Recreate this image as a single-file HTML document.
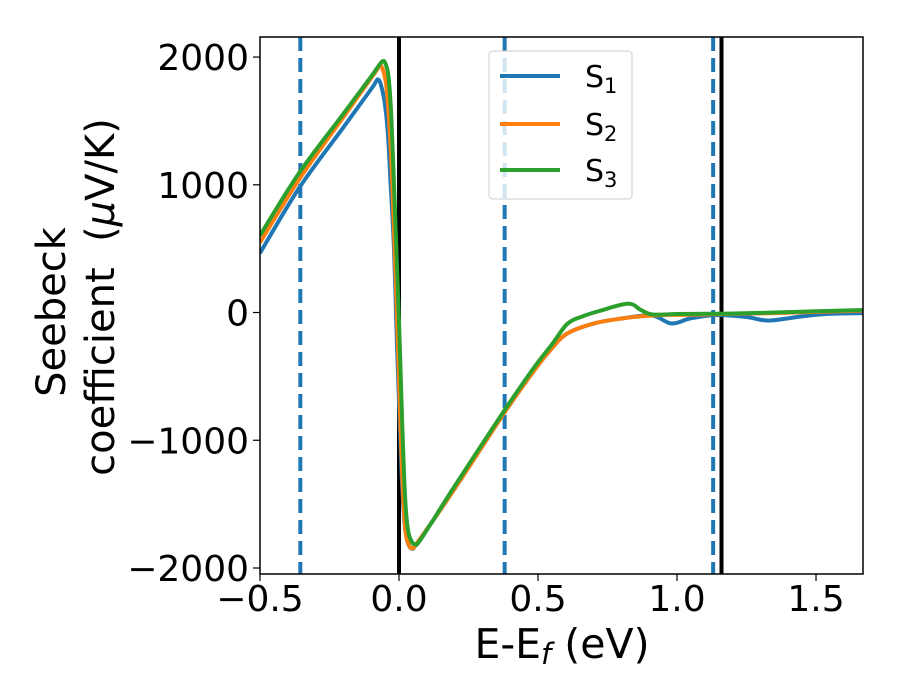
<!DOCTYPE html>
<html><head><meta charset="utf-8"><style>
body{margin:0;background:#fff;}
svg{display:block;font-family:"DejaVu Sans","Liberation Sans",sans-serif;}
</style></head><body>
<svg id="chart" width="900" height="700" viewBox="0 0 900 700">
<g id="plotlayer"></g>
<text x="562" y="658" text-anchor="middle" font-size="41">E-E<tspan font-style="italic" font-size="29" dy="6">f</tspan><tspan dy="-6"> (eV)</tspan></text>
<g font-size="40">
<text x="0" y="0" text-anchor="middle" transform="translate(65,312) rotate(-90)">Seebeck</text>
<text x="0" y="0" text-anchor="middle" xml:space="preserve" transform="translate(114,297) rotate(-90)">coefficient  (<tspan font-style="italic">μ</tspan>V/K)</text>
</g>
<g>
<rect x="489" y="51" width="143" height="148" rx="4" fill="#fff" fill-opacity="0.8" stroke="#ccc" stroke-width="1"/>
<g><line x1="500" x2="560" y1="76" y2="76" stroke="#1f77b4" stroke-width="4"/><text x="585" y="87" font-size="30">S<tspan font-size="21" dy="6">1</tspan></text></g>
<g><line x1="500" x2="560" y1="124" y2="124" stroke="#ff7f0e" stroke-width="4"/><text x="585" y="135" font-size="30">S<tspan font-size="21" dy="6">2</tspan></text></g>
<g><line x1="500" x2="560" y1="170" y2="170" stroke="#2ca02c" stroke-width="4"/><text x="585" y="181" font-size="30">S<tspan font-size="21" dy="6">3</tspan></text></g>
</g>
</svg>
<script>
const xTicks=[-0.5,0.0,0.5,1.0,1.5];
const xTickLabels=["\u22120.5","0.0","0.5","1.0","1.5"];
const yTicks=[-2000,-1000,0,1000,2000];
const yTickLabels=["\u22122000","\u22121000","0","1000","2000"];
const s1x=[-0.5,-0.36,-0.2,-0.1,-0.085,-0.076,-0.066,-0.052,-0.04,-0.03,-0.018,-0.008,0.0,0.01,0.02,0.03,0.046,0.07,0.2,0.375,0.486,0.55,0.605,0.7,0.8,0.91,0.98,1.05,1.14,1.25,1.33,1.45,1.55,1.67];
const s1y=[465,973,1450,1750,1800,1825,1790,1650,1400,1000,500,-200,-700,-1300,-1650,-1790,-1848,-1790,-1380,-797,-454,-280,-164,-86,-47,-23,-86,-45,-20,-35,-63,-30,-10,-5];
const s2x=[-0.5,-0.36,-0.2,-0.1,-0.078,-0.068,-0.058,-0.046,-0.034,-0.024,-0.014,-0.006,0.004,0.014,0.024,0.034,0.046,0.07,0.2,0.375,0.486,0.55,0.605,0.7,0.8,0.91,1.0,1.1,1.2,1.35,1.5,1.67];
const s2y=[548,1040,1530,1836,1905,1934,1900,1780,1450,1000,400,-100,-800,-1400,-1720,-1810,-1845,-1790,-1380,-797,-454,-280,-164,-86,-47,-23,-18,-15,-10,-5,5,15];
const s3x=[-0.5,-0.36,-0.2,-0.1,-0.072,-0.059,-0.05,-0.038,-0.028,-0.018,-0.008,0.002,0.012,0.022,0.032,0.045,0.058,0.08,0.2,0.375,0.486,0.55,0.605,0.66,0.727,0.824,0.87,0.91,1.0,1.1,1.2,1.35,1.5,1.67];
const s3y=[603,1090,1556,1848,1935,1967,1955,1850,1550,1000,400,-200,-900,-1450,-1700,-1790,-1813,-1770,-1360,-780,-430,-250,-90,-30,16,70,20,-15,-12,-10,-8,0,10,20];
const vSolid=[0.0,1.16];
const vDashed=[-0.355,0.38,1.13];

const L=260,R=863,T=37,B=574;
const xMin=-0.5,xMax=1.669,yMin=-2047,yMax=2157;
const X=v=>L+(v-xMin)/(xMax-xMin)*(R-L);
const Y=v=>B-(v-yMin)/(yMax-yMin)*(B-T);
const svg=document.getElementById('plotlayer');
const NS='http://www.w3.org/2000/svg';
function mk(tag,attrs,parent){const e=document.createElementNS(NS,tag);for(const k in attrs)e.setAttribute(k,attrs[k]);(parent||svg).appendChild(e);return e;}

const defs=mk('defs',{});
const cp=mk('clipPath',{id:'clip'},defs);
mk('rect',{x:L,y:T,width:R-L,height:B-T},cp);
const plot=mk('g',{'clip-path':'url(#clip)'});



vDashed.forEach(v=>{const l=mk('line',{x1:X(v),x2:X(v),y1:T,y2:B,stroke:'#1f77b4','stroke-width':4,'stroke-dasharray':'14,7'},plot);

});
vSolid.forEach(v=>{const l=mk('line',{x1:X(v),x2:X(v),y1:T,y2:B,stroke:'#000','stroke-width':4},plot);

});

function path(xs,ys){
  const p=xs.map((x,i)=>[X(x),Y(ys[i])]);
  let d='M'+p[0][0]+','+p[0][1];
  for(let i=0;i<p.length-1;i++){
    const p0=p[Math.max(i-1,0)],p1=p[i],p2=p[i+1],p3=p[Math.min(i+2,p.length-1)];
    const c1=[p1[0]+(p2[0]-p0[0])/6,p1[1]+(p2[1]-p0[1])/6];
    const c2=[p2[0]-(p3[0]-p1[0])/6,p2[1]-(p3[1]-p1[1])/6];
    d+=' C'+c1[0]+','+c1[1]+' '+c2[0]+','+c2[1]+' '+p2[0]+','+p2[1];
  }
  return d;
}
const series=[[s1x,s1y,'#1f77b4','series-s1'],[s2x,s2y,'#ff7f0e','series-s2'],[s3x,s3y,'#2ca02c','series-s3']];
series.forEach(s=>{const e=mk('path',{d:path(s[0],s[1]),fill:'none',stroke:s[2],'stroke-width':4,'stroke-linejoin':'round'},plot);

});

const frame=mk('rect',{x:L,y:T,width:R-L,height:B-T,fill:'none',stroke:'#000','stroke-width':1.5});



xTicks.forEach((v,i)=>{mk('line',{x1:X(v),x2:X(v),y1:B,y2:B+7,stroke:'#000','stroke-width':1.2});
const t=mk('text',{x:X(v),y:B+37,'text-anchor':'middle','font-size':36});t.textContent=xTickLabels[i];

});
yTicks.forEach((v,i)=>{mk('line',{x1:L-7,x2:L,y1:Y(v),y2:Y(v),stroke:'#000','stroke-width':1.2});
const t=mk('text',{x:L-11,y:Y(v)+13,'text-anchor':'end','font-size':36});t.textContent=yTickLabels[i];

});
</script>
</body></html>
